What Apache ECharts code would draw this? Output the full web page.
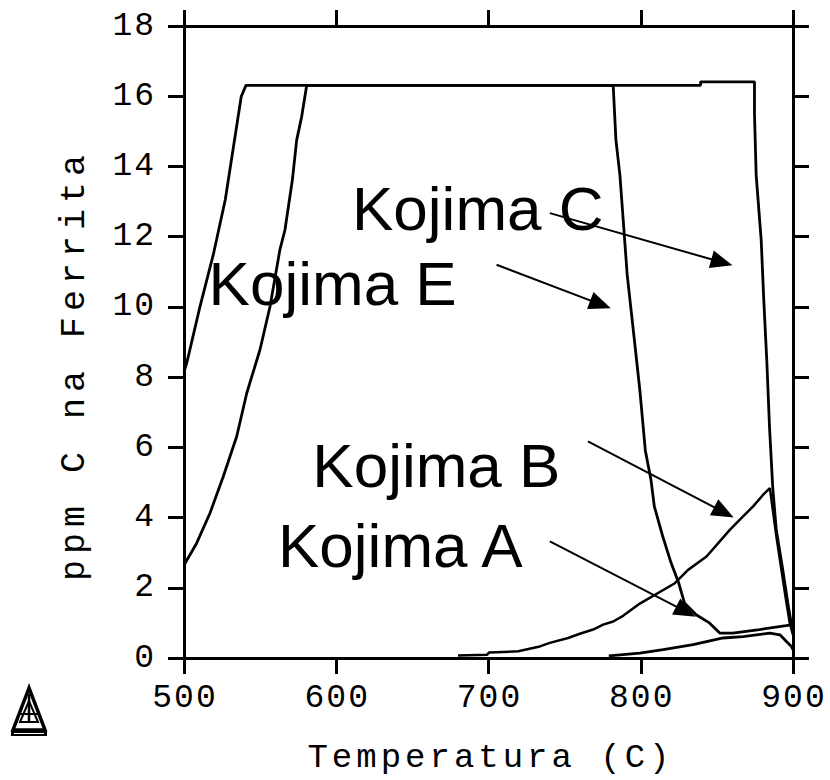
<!DOCTYPE html>
<html><head><meta charset="utf-8">
<script src="https://cdn.jsdelivr.net/npm/echarts@6/dist/echarts.min.js"></script>
<style>
html,body{margin:0;padding:0;background:#fff}
#c{width:830px;height:780px}
#c svg text[style*="33px"]{letter-spacing:2px}
#c svg text[style*="34px"]{letter-spacing:4px}
#c svg text[style*="35px"]{letter-spacing:6px}
</style>
</head><body><div id="c"></div>
<script>
// ---- data ----
const xTicks = [500, 600, 700, 800, 900];
const yTicks = [0, 2, 4, 6, 8, 10, 12, 14, 16, 18];
const xTitle = 'Temperatura (C)';
const yTitle = 'ppm C na Ferrita';
const labelNames = ['Kojima C', 'Kojima E', 'Kojima B', 'Kojima A'];

const kojimaA = [[779,0.06],[799.4,0.14],[814.7,0.24],[834.4,0.38],[854.1,0.57],[867.2,0.61],[884.8,0.71],[891.4,0.66],[895.7,0.47],[899,0.33],[900,0.24]];
const kojimaB = [[680,0.07],[699,0.09],[700.5,0.16],[719.5,0.19],[733.7,0.33],[740.3,0.43],[752.3,0.57],[760,0.69],[768.7,0.81],[775.3,0.95],[781.9,1.04],[788.4,1.2],[799.4,1.55],[822.4,2.13],[831.1,2.51],[843.2,2.89],[851.9,3.32],[858.5,3.65],[865.1,3.94],[873.8,4.32],[880.4,4.65],[884.8,4.84],[889.1,3.46],[892.4,2.51],[895.7,1.57],[897.9,0.99],[900,0.66]];
const kojimaC = [[500,8.15],[501.8,8.4],[510.5,10.01],[519.2,11.48],[527.1,13.05],[537.6,15.99],[540.7,16.31],[839.3,16.31],[839.3,16.41],[874.7,16.41],[874.7,15.51],[875.8,13.76],[879.1,11.91],[880.8,10.2],[882.8,8.45],[884.6,6.55],[886.7,4.85],[889,3.65],[893.3,2.51],[896.6,1.57],[898.8,1.0],[900,0.86]];
const kojimaE = [[500,2.65],[500.7,2.7],[508.3,3.27],[517.1,4.13],[525.8,5.17],[534.6,6.31],[541.2,7.54],[549.9,8.78],[556.5,10.01],[563,11.63],[566.3,12.19],[571.2,13.62],[574,14.75],[577.3,15.42],[580.6,16.31],[781.9,16.31],[783.7,14.75],[786.3,13.76],[788,12.76],[791.1,10.91],[795.3,9.26],[799.5,7.59],[803,5.91],[806.7,5.08],[808.9,4.32],[814.4,3.47],[819.9,2.71],[824.9,2.14],[828.7,1.57],[836.4,1.23],[845.1,1.0],[851.9,0.71],[860.4,0.71],[878,0.81],[895.5,0.92],[900,0.95]];

// annotation arrows (label -> curve), in data coordinates: [start, end]
const arrowC = [[740.3,12.67],[853.3,11.27]];
const arrowE = [[705.3,11.2],[773.6,10.07]];
const arrowB = [[765.3,6.17],[854.6,4.15]];
const arrowA = [[740.3,3.32],[829.7,1.32]];

// ---- chart ----
const chart = echarts.init(document.getElementById('c'), null, {renderer: 'svg'});
const tickFont = 'Liberation Mono';
const axisLineStyle = {color: '#000', width: 3};
const xMin = xTicks[0], xMax = xTicks[xTicks.length - 1], xInt = xTicks[1] - xTicks[0];
const yMin = yTicks[0], yMax = yTicks[yTicks.length - 1], yInt = yTicks[1] - yTicks[0];

function xAx(pos, showLabel) {
  return {
    type: 'value', min: xMin, max: xMax, interval: xInt, position: pos,
    axisLine: {show: true, onZero: false, lineStyle: axisLineStyle},
    axisTick: {show: true, inside: false, length: 16, lineStyle: axisLineStyle},
    axisLabel: {show: showLabel, margin: 24, fontFamily: tickFont, fontSize: 33, color: '#000', padding: [0, 0, 0, 2]},
    splitLine: {show: false},
    name: showLabel ? xTitle : '', nameLocation: 'middle', nameGap: 83,
    nameTextStyle: {fontFamily: tickFont, fontSize: 34, color: '#000', padding: [0, 0, 0, 4]}
  };
}
function yAx(pos, showLabel) {
  return {
    type: 'value', min: yMin, max: yMax, interval: yInt, position: pos,
    axisLine: {show: true, onZero: false, lineStyle: axisLineStyle},
    axisTick: {show: true, inside: false, length: 16, lineStyle: axisLineStyle},
    axisLabel: {show: showLabel, margin: 28, fontFamily: tickFont, fontSize: 33, color: '#000'},
    splitLine: {show: false},
    name: showLabel ? yTitle : '', nameLocation: 'middle', nameGap: 92,
    nameTextStyle: {fontFamily: tickFont, fontSize: 35, color: '#000', padding: [0, 46, 0, 0]}
  };
}
function curve(name, data, w) {
  return {
    name: name, type: 'line', data: data, showSymbol: false, symbol: 'none',
    xAxisIndex: 0, yAxisIndex: 0, silent: true, clip: false,
    lineStyle: {color: '#000', width: w}
  };
}
const arrowLine = a => [{coord: a[0]}, {coord: a[1]}];
const seriesA = curve('Kojima A', kojimaA, 2.8);
seriesA.markLine = {
  silent: true, symbol: ['none', 'triangle'], symbolSize: [18, 22],
  lineStyle: {color: '#000', width: 2, type: 'solid'},
  label: {show: false}, emphasis: {disabled: true},
  data: [arrowLine(arrowC), arrowLine(arrowE), arrowLine(arrowB), arrowLine(arrowA)]
};

const labelFont = '62px "Liberation Sans", Arial, sans-serif';
const labelPos = [[352, 208], [208.6, 283], [312.3, 465], [278, 545.7]];

const option = {
  animation: false,
  backgroundColor: '#fff',
  grid: {left: 184, top: 26, width: 609, height: 632, containLabel: false},
  xAxis: [xAx('bottom', true), xAx('top', false)],
  yAxis: [yAx('left', true), yAx('right', false)],
  series: [
    seriesA,
    curve('Kojima B', kojimaB, 2.5),
    curve('Kojima C', kojimaC, 2.8),
    curve('Kojima E', kojimaE, 2.8)
  ],
  graphic: labelNames.map((t, i) => ({
    type: 'text', x: labelPos[i][0], y: labelPos[i][1], silent: true,
    style: {text: t, font: labelFont, fill: '#000', align: 'left', verticalAlign: 'middle'}
  })).concat([
    {type: 'polygon', silent: true, shape: {points: [[29,688],[13,730],[45,730]]}, style: {fill: 'none', stroke: '#000', lineWidth: 3.5}},
    {type: 'polygon', silent: true, shape: {points: [[29,701],[20,722],[38,722]]}, style: {fill: 'none', stroke: '#000', lineWidth: 2}},
    {type: 'line', silent: true, shape: {x1: 29, y1: 694, x2: 29, y2: 722}, style: {stroke: '#000', lineWidth: 2.5}},
    {type: 'line', silent: true, shape: {x1: 20, y1: 714, x2: 38, y2: 714}, style: {stroke: '#000', lineWidth: 2}},
    {type: 'rect', silent: true, shape: {x: 11, y: 731, width: 36, height: 5}, style: {fill: '#000'}},
    {type: 'line', silent: true, shape: {x1: 14, y1: 733.5, x2: 44, y2: 733.5}, style: {stroke: '#fff', lineWidth: 1}}
  ])
};
chart.setOption(option);
</script></body></html>
